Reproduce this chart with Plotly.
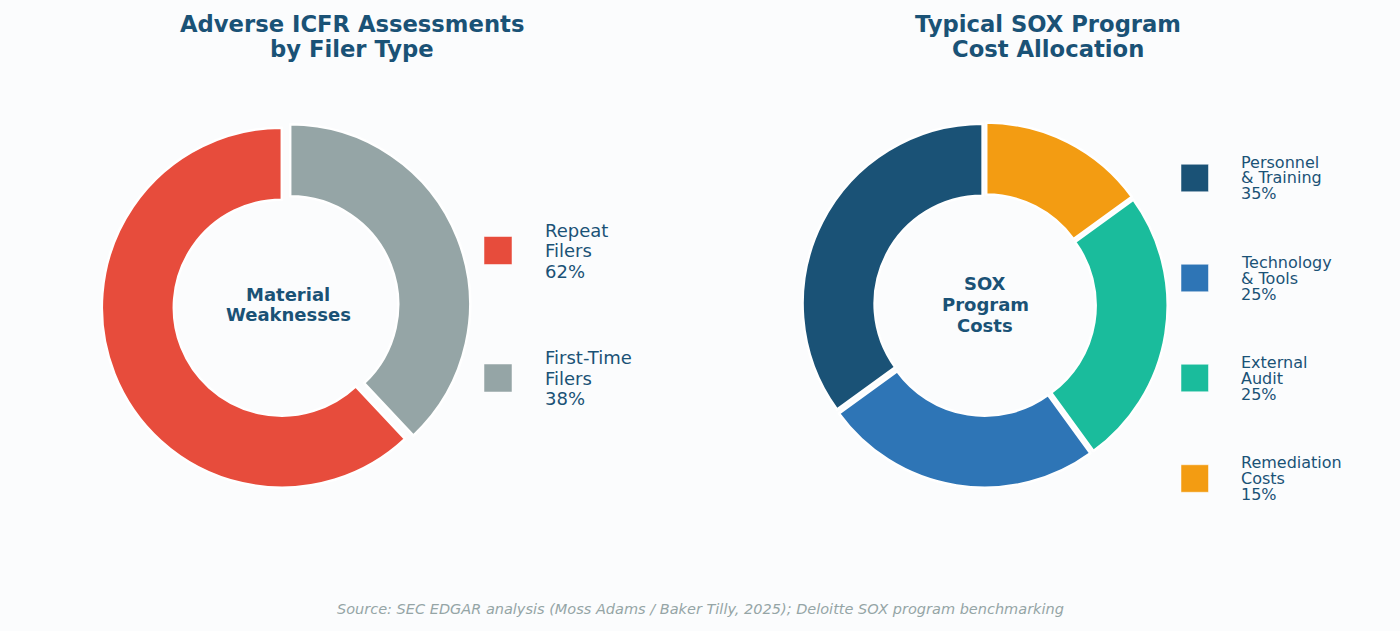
import plotly.graph_objects as go

# ---- data ----
filer_labels = ["Repeat<br>Filers", "First-Time<br>Filers"]
filer_values = [62, 38]
filer_colors = ["#e74c3c", "#95a5a6"]

cost_labels = ["Personnel<br>& Training", "Technology<br>& Tools", "External<br>Audit", "Remediation<br>Costs"]
cost_values = [35, 25, 25, 15]
cost_colors = ["#1a5276", "#2e75b6", "#1abc9c", "#f39c12"]

title_left = ["Adverse ICFR Assessments", "by Filer Type"]
title_right = ["Typical SOX Program", "Cost Allocation"]
center_left = ["Material", "Weaknesses"]
center_right = ["SOX", "Program", "Costs"]
source_text = "Source: SEC EDGAR analysis (Moss Adams / Baker Tilly, 2025); Deloitte SOX program benchmarking"

W, H = 1400, 631
BG = "#fbfcfd"
TXT = "#1a5276"
FONT = "DejaVu Sans"


def px(x):
    return x / W


def py(y):
    return 1 - y / H


def domain(cx, cy, size):
    return dict(x=[px(cx - size / 2), px(cx + size / 2)],
                y=[py(cy + size / 2), py(cy - size / 2)])


def first_slice_rotation(values):
    # in counterclockwise mode plotly ends the first slice at the rotation angle;
    # shift so the first slice starts at 12 o'clock
    return -360.0 * values[0] / sum(values)


fig = go.Figure()

PULL_L, PULL_R = 0.025, 0.015
R = 180
fig.add_trace(go.Pie(
    labels=filer_labels, values=filer_values, sort=False,
    direction="counterclockwise", rotation=first_slice_rotation(filer_values), hole=0.60,
    pull=[PULL_L] * len(filer_values),
    marker=dict(colors=filer_colors, line=dict(color="white", width=2.5)),
    textinfo="none", hoverinfo="label+percent", showlegend=False,
    domain=domain(286, 306, 2 * R * (1 + PULL_L)),
))
fig.add_trace(go.Pie(
    labels=cost_labels, values=cost_values, sort=False,
    direction="counterclockwise", rotation=first_slice_rotation(cost_values), hole=0.60,
    pull=[PULL_R] * len(cost_values),
    marker=dict(colors=cost_colors, line=dict(color="white", width=2.5)),
    textinfo="none", hoverinfo="label+percent", showlegend=False,
    domain=domain(985, 305, 2 * R * (1 + PULL_R)),
))

annotations = []
shapes = []


def add_lines(lines, cx, cy_first, spacing, size, bold=False, xanchor="center", color=TXT, italic=False):
    for i, t in enumerate(lines):
        annotations.append(dict(
            text=t, x=px(cx), y=py(cy_first + i * spacing), xref="paper", yref="paper",
            xanchor=xanchor, yanchor="middle", showarrow=False,
            font=dict(family=FONT, size=size, color=color,
                      weight="bold" if bold else "normal",
                      style="italic" if italic else "normal"),
        ))


# titles
add_lines(title_left, 352, 24, 24.5, 22.7, bold=True)
add_lines(title_right, 1048, 24, 24.5, 22.7, bold=True)
# centre labels
add_lines(center_left, 288, 294, 20, 18, bold=True)
add_lines(center_right, 985, 283, 21, 18, bold=True)


def legend(labels, values, colors, sq_x, sq_size, centers, text_x, size, spacing):
    total = sum(values)
    for lab, v, c, cy in zip(labels, values, colors, centers):
        shapes.append(dict(type="rect", xref="paper", yref="paper",
                           x0=px(sq_x), x1=px(sq_x + sq_size),
                           y0=py(cy + sq_size / 2), y1=py(cy - sq_size / 2),
                           fillcolor=c, line=dict(color="white", width=0.5)))
        lines = lab.split("<br>") + [f"{round(100 * v / total)}%"]
        add_lines(lines, text_x, cy - spacing, spacing, size, xanchor="left")


legend(filer_labels, filer_values, filer_colors, 484, 28, [250.5, 378], 543, 18, 20.5)
legend(cost_labels, cost_values, cost_colors, 1181, 27.5, [178, 278, 378, 478.5], 1239, 16, 16)

# source
add_lines([source_text], 700, 609, 0, 14.5, color="#95a5a6", italic=True)

fig.update_layout(
    width=W, height=H, margin=dict(l=0, r=0, t=0, b=0),
    paper_bgcolor=BG, plot_bgcolor=BG,
    annotations=annotations, shapes=shapes, showlegend=False,
)

fig.write_html("out.html")
